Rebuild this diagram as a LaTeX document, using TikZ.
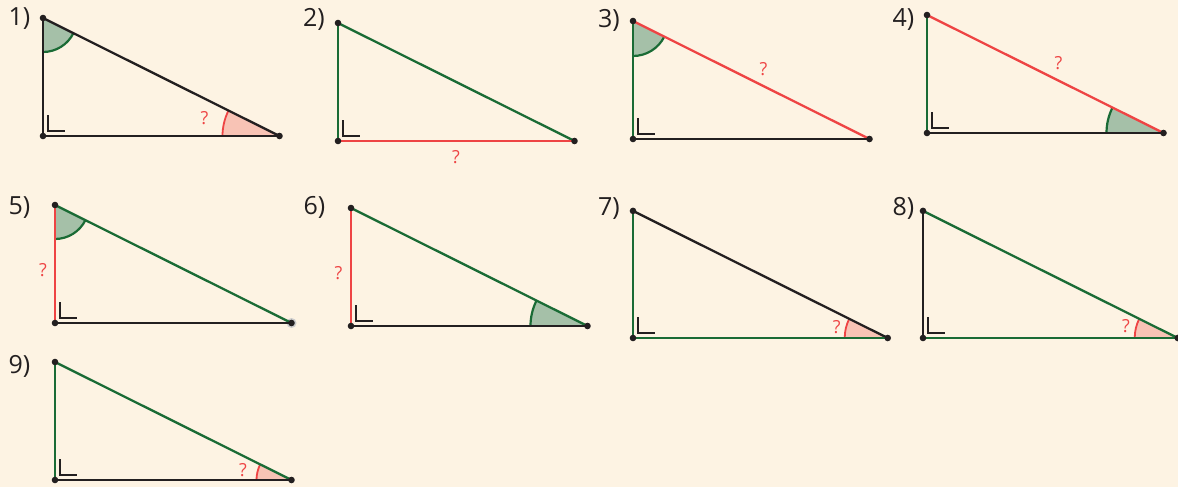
\documentclass[tikz,border=0pt]{standalone}
\usepackage{fontspec}
\setmainfont{Open Sans}
\usetikzlibrary{angles}
\definecolor{paper}{HTML}{FDF3E3}
\definecolor{ink}{HTML}{231F20}
\definecolor{sidegreen}{HTML}{1A6B35}
\definecolor{sidered}{HTML}{EE4444}
\definecolor{knownfill}{HTML}{A5C0A8}
\definecolor{askfill}{HTML}{F8C3B5}

\begin{document}
\begin{tikzpicture}[x=1pt,y=1pt,
  side/.style={line width=2.3pt},
  num/.style={font=\fontsize{25}{25}\selectfont,text=ink,inner sep=0pt},
  ask/.style={font=\fontsize{18}{18}\selectfont,text=sidered,inner sep=0pt},
  known/.style={draw=sidegreen,fill=knownfill,line width=2.2pt},
  unknown/.style={draw=sidered,fill=askfill,line width=1.8pt},
  rmark/.style={draw=ink,line width=2pt}]
\fill[paper] (0,0) rectangle (1178,-487);
\useasboundingbox (0,0) rectangle (1178,-487);

\foreach \n/\x/\y/\s in {1/43/-136/1, 2/338/-141/1, 3/633/-139/1, 4/927/-133/1,
    5/55/-323/1, 6/351/-326/1, 7/633/-338/1.077, 8/923/-338/1.077, 9/55/-480/1}{
  \coordinate (r\n) at (\x,\y);
  \coordinate (t\n) at (\x,\y+118*\s);
  \coordinate (e\n) at (\x+236.5*\s,\y);
}

\pic[known,angle radius=34pt] {angle=r1--t1--e1};
\pic[unknown,angle radius=57pt] {angle=t1--e1--r1};
\pic[known,angle radius=35pt] {angle=r3--t3--e3};
\pic[known,angle radius=57pt] {angle=t4--e4--r4};
\pic[known,angle radius=34pt] {angle=r5--t5--e5};
\pic[known,angle radius=57pt] {angle=t6--e6--r6};
\pic[unknown,angle radius=43pt] {angle=t7--e7--r7};
\pic[unknown,angle radius=43pt] {angle=t8--e8--r8};
\pic[unknown,angle radius=35pt] {angle=t9--e9--r9};

\fill[gray!40] (e5) circle (5pt);

\foreach \n/\lc/\hc/\bc in {1/ink/ink/ink, 2/sidegreen/sidegreen/sidered,
    3/sidegreen/sidered/ink, 4/sidegreen/sidered/ink, 5/sidered/sidegreen/ink,
    6/sidered/sidegreen/ink, 7/sidegreen/ink/sidegreen, 8/ink/sidegreen/sidegreen,
    9/sidegreen/sidegreen/ink}{
  \draw[side,\lc] (t\n) -- (r\n);
  \draw[side,\hc] (t\n) -- (e\n);
  \draw[side,\bc] (r\n) -- (e\n);
  \draw[rmark] ([shift={(5,21)}]r\n) |- ++(17,-16);
  \foreach \p in {t,r,e} \fill[ink] (\p\n) circle (3.3pt);
}

\foreach \n/\lx/\ly in {1/19.5/-19, 2/314/-19, 3/609/-20, 4/903.5/-20,
    5/19.5/-207.5, 6/314.5/-207, 7/609/-209, 8/903.5/-208, 9/19.5/-366}
  \node[num] (l\n) at (\lx,\ly) {\n)};

\node[ask] (q1) at (204.5,-118) {?};
\node[ask] (q2) at (456,-157.5) {?};
\node[ask] (q3) at (763.5,-69.5) {?};
\node[ask] (q4) at (1058.5,-63) {?};
\node[ask] (q5) at (43,-270.5) {?};
\node[ask] (q6) at (338.5,-273.5) {?};
\node[ask] (q7) at (836.7,-327) {?};
\node[ask] (q8) at (1126,-326) {?};
\node[ask] (q9) at (243,-470) {?};
\end{tikzpicture}
\end{document}
